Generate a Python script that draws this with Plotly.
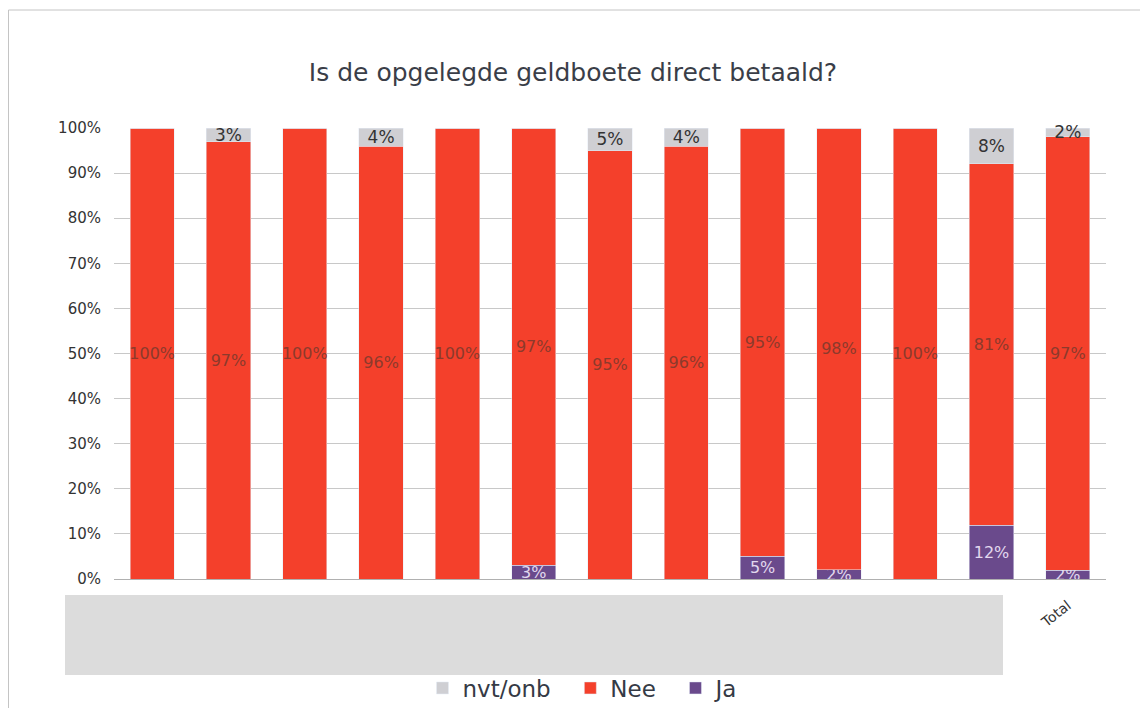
import plotly.graph_objects as go

categories = ["C1", "C2", "C3", "C4", "C5", "C6", "C7", "C8", "C9", "C10", "C11", "C12", "Total"]
tick_labels = ["", "", "", "", "", "", "", "", "", "", "", "", "Total"]
ja = [0, 0, 0, 0, 0, 3, 0, 0, 5, 2, 0, 12, 2]
nee = [100, 97, 100, 96, 100, 97, 95, 96, 95, 98, 100, 81, 97]
nvt = [0, 3, 0, 4, 0, 0, 5, 4, 0, 0, 0, 8, 2]
y_ticks = [0, 10, 20, 30, 40, 50, 60, 70, 80, 90, 100]

def lbl(vals):
    return [f"{v}%" if v > 0 else "" for v in vals]

FONT = "DejaVu Sans"
# page body has an 8px margin: figure is 1140x700 and margins are shifted by 8px
W, H = 1140, 700
L, R, T, B = 106, 42, 120, 129
PW, PH = W - L - R, H - T - B
PAD = "\u00a0\u00a0"

fig = go.Figure()
fig.add_trace(go.Bar(x=categories, y=ja, name="Ja", marker_color="#6a4a8c",
                     text=lbl(ja), textposition="inside", insidetextanchor="middle",
                     constraintext="none", textangle=0, cliponaxis=False,
                     textfont=dict(family=FONT, size=16, color="#e2d8ee")))
fig.add_trace(go.Bar(x=categories, y=nee, name="Nee" + PAD, marker_color="#f4402b",
                     text=lbl(nee), textposition="inside", insidetextanchor="middle",
                     constraintext="none", textangle=0, cliponaxis=False,
                     textfont=dict(family=FONT, size=16, color="#8c3a2c")))
fig.add_trace(go.Bar(x=categories, y=nvt, name="nvt/onb" + PAD, marker_color="#cfcfd3",
                     text=lbl(nvt), textposition="inside", insidetextanchor="middle",
                     constraintext="none", textangle=0, cliponaxis=False,
                     textfont=dict(family=FONT, size=17, color="#333333")))

fig.update_layout(
    barmode="stack",
    barnorm="percent",
    bargap=0.42,
    width=W, height=H,
    margin=dict(l=L, r=R, t=T, b=B, autoexpand=False),
    paper_bgcolor="white", plot_bgcolor="white",
    font=dict(family=FONT, color="#333333"),
    title=dict(text="Is de opgelegde geldboete direct betaald?", x=(573 - 8) / W, xanchor="center",
               y=1 - 64 / H, yanchor="middle",
               font=dict(family=FONT, size=25, color="#3a3e48")),
    legend=dict(orientation="h", x=(583 - 8 - L) / PW, xanchor="center",
                yref="container", y=1 - 680 / H, yanchor="middle",
                traceorder="reversed", font=dict(family=FONT, size=23, color="#353a45"),
                bgcolor="rgba(0,0,0,0)", itemwidth=30),
    hovermode=False,
    showlegend=True,
)
fig.update_yaxes(range=[0, 100], tickvals=y_ticks, ticktext=[f"{v}%" for v in y_ticks],
                 showgrid=True, gridcolor="#c8c8c8", gridwidth=1, zeroline=False,
                 tickfont=dict(family=FONT, size=15, color="#333333"),
                 ticklabelstandoff=12, showline=False, automargin=False)
fig.update_xaxes(tickvals=categories, ticktext=tick_labels, tickangle=-38,
                 tickfont=dict(family=FONT, size=14, color="#333333"),
                 showline=True, linecolor="#b0b0b0", ticks="", automargin=False,
                 ticklabelstandoff=12)

fig.add_shape(type="rect", xref="paper", yref="paper",
              x0=(57 - L) / PW, x1=(995 - L) / PW,
              y0=(571 - 667) / PH, y1=(571 - 587) / PH,
              fillcolor="#dcdcdc", line=dict(width=0), layer="above")
fig.add_shape(type="rect", xref="paper", yref="paper",
              x0=(0.5 - L) / PW, x1=(1160 - L) / PW, y0=(571 - 760) / PH, y1=(571 - 2) / PH,
              fillcolor="rgba(0,0,0,0)", line=dict(color="#c4c4c4", width=1), layer="below")

fig.write_html("out.html")
